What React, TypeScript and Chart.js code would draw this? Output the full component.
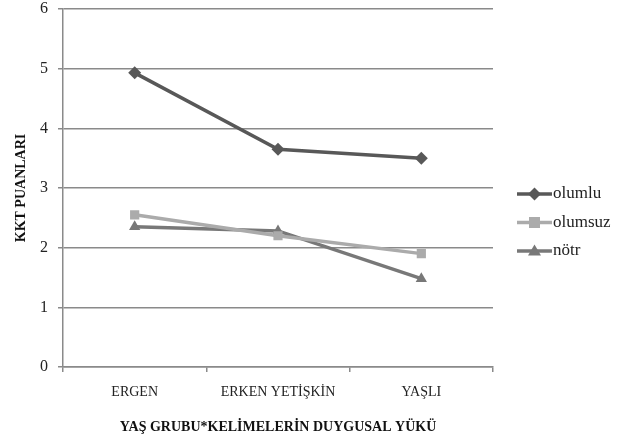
import React, { useEffect, useRef } from "react";
import { Chart, registerables } from "chart.js";

Chart.register(...registerables);

const categories = ["ERGEN", "ERKEN YETİŞKİN", "YAŞLI"];
const olumlu = [4.93, 3.65, 3.5];
const olumsuz = [2.55, 2.2, 1.9];
const notr = [2.35, 2.28, 1.48];
const yTicks = [0, 1, 2, 3, 4, 5, 6];
const seriesNames = ["olumlu", "olumsuz", "nötr"];
const seriesColors = ["#585858", "#ababab", "#787878"];
const seriesMarkers = ["rectRot", "rect", "triangle"];

const FONT = "'Liberation Serif', 'Times New Roman', serif";

function drawMarker(ctx: CanvasRenderingContext2D, style: string, x: number, y: number, r: number) {
  ctx.beginPath();
  if (style === "rectRot") {
    ctx.moveTo(x, y - r);
    ctx.lineTo(x + r, y);
    ctx.lineTo(x, y + r);
    ctx.lineTo(x - r, y);
  } else if (style === "rect") {
    const s = r * 0.85;
    ctx.rect(x - s, y - s, 2 * s, 2 * s);
  } else {
    ctx.moveTo(x, y - r);
    ctx.lineTo(x + r, y + r * 0.7);
    ctx.lineTo(x - r, y + r * 0.7);
  }
  ctx.closePath();
  ctx.fill();
}

const legendPlugin = {
  id: "customLegend",
  afterDraw(chart: any) {
    const ctx = chart.ctx as CanvasRenderingContext2D;
    const area = chart.chartArea;
    const x0 = area.right + 24;
    const yStart = area.top + 185;
    ctx.save();
    seriesNames.forEach((name, i) => {
      const y = yStart + i * 28.5;
      ctx.strokeStyle = seriesColors[i];
      ctx.fillStyle = seriesColors[i];
      ctx.lineWidth = 3.5;
      ctx.beginPath();
      ctx.moveTo(x0, y);
      ctx.lineTo(x0 + 35, y);
      ctx.stroke();
      drawMarker(ctx, seriesMarkers[i], x0 + 17.5, y, 6.5);
      ctx.fillStyle = "#222";
      ctx.font = `17px ${FONT}`;
      ctx.textBaseline = "middle";
      ctx.textAlign = "left";
      ctx.fillText(name, x0 + 36, y);
    });
    ctx.restore();
  },
};

export default function App() {
  const ref = useRef<HTMLCanvasElement>(null);
  useEffect(() => {
    if (!ref.current) return;
    const allData = [olumlu, olumsuz, notr];
    const chart = new Chart(ref.current, {
      type: "line",
      data: {
        labels: categories,
        datasets: seriesNames.map((name, i) => ({
          label: name,
          data: allData[i],
          borderColor: seriesColors[i],
          backgroundColor: seriesColors[i],
          borderWidth: 3.5,
          pointStyle: seriesMarkers[i] as any,
          pointRadius: 6.5,
          pointBorderWidth: 0,
          tension: 0,
        })),
      },
      options: {
        animation: false,
        responsive: false,
        devicePixelRatio: 1,
        layout: { padding: { top: 9, right: 135, bottom: 0, left: 0 } },
        plugins: {
          legend: { display: false },
          tooltip: { enabled: false },
        },
        scales: {
          x: {
            offset: true,
            grid: {
              offset: true,
              drawOnChartArea: false,
              drawTicks: true,
              tickLength: 5,
              color: "#8a8a8a",
              lineWidth: 1.5,
            },
            border: { color: "#8a8a8a", width: 1.5 },
            ticks: {
              color: "#222",
              font: { family: FONT, size: 14 },
              padding: 12,
              maxRotation: 0,
            },
            title: {
              display: true,
              text: "YAŞ GRUBU*KELİMELERİN DUYGUSAL YÜKÜ",
              color: "#111",
              font: { family: FONT, size: 14, weight: "bold" },
              padding: { top: 8, bottom: 0 },
            },
            afterFit(scale: any) {
              scale.height = 69;
              scale.paddingLeft = 0;
              scale.paddingRight = 0;
            },
          },
          y: {
            min: 0,
            max: 6,
            afterBuildTicks(scale: any) {
              scale.ticks = yTicks.map((v) => ({ value: v }));
            },
            grid: {
              color: "#8a8a8a",
              lineWidth: 1.5,
              tickLength: 5,
            },
            border: { color: "#8a8a8a", width: 1.5 },
            ticks: {
              color: "#222",
              font: { family: FONT, size: 16 },
              padding: 10,
            },
            title: {
              display: true,
              text: "KKT PUANLARI",
              color: "#111",
              font: { family: FONT, size: 14, weight: "bold" },
              padding: { top: 13, bottom: 4 },
            },
            afterFit(scale: any) {
              scale.width = 63;
              scale.paddingTop = 0;
              scale.paddingBottom = 0;
            },
          },
        },
      },
      plugins: [legendPlugin],
    });
    return () => chart.destroy();
  }, []);
  return (
    <div style={{ position: "absolute", left: 0, top: 0, width: 628, height: 436, background: "#fff" }}>
      <canvas ref={ref} width={628} height={436} style={{ width: 628, height: 436 }} />
    </div>
  );
}
